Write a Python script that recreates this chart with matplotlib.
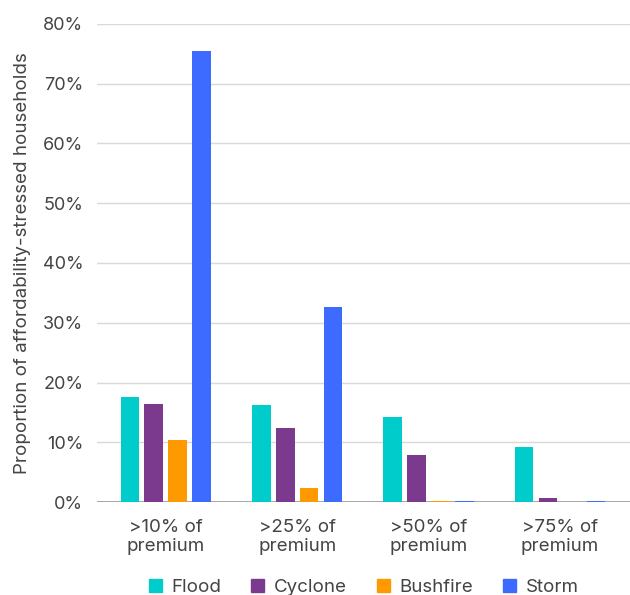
import matplotlib

matplotlib.use("Agg")
import matplotlib.pyplot as plt
import numpy as np
from matplotlib.patches import Patch

categories = [">10% of\npremium", ">25% of\npremium", ">50% of\npremium", ">75% of\npremium"]
series = ["Flood", "Cyclone", "Bushfire", "Storm"]
flood = [17.6, 16.2, 14.2, 9.2]
cyclone = [16.4, 12.4, 7.9, 0.7]
bushfire = [10.4, 2.3, 0.2, 0.0]
storm = [75.5, 32.6, 0.2, 0.2]
colors = ["#00CCCC", "#7B3A8E", "#FF9900", "#3D6BFF"]
yticks = [0, 10, 20, 30, 40, 50, 60, 70, 80]

plt.rcParams["font.family"] = ["Inter", "DejaVu Sans"]
text_color = "#444444"

fig = plt.figure(figsize=(6.3, 5.95), dpi=100)
ax = fig.add_axes([0.154, 0.156, 0.846, 0.804])

x = np.arange(len(categories))
width = 0.142
step = 0.182
for i, (name, vals) in enumerate(zip(series, [flood, cyclone, bushfire, storm])):
    ax.bar(x + (i - 1.5) * step, vals, width, color=colors[i], label=name,
           linewidth=0, zorder=3)

ax.set_xlim(-0.523, 3.533)
ax.set_ylim(0, 80)
ax.set_yticks(yticks)
ax.set_yticklabels([f"{v}%" for v in yticks])
ax.set_xticks(x)
ax.set_xticklabels(categories)
ax.tick_params(axis="both", length=0, colors=text_color)
ax.tick_params(axis="y", labelsize=13, pad=10)
ax.tick_params(axis="x", labelsize=13.5, pad=12)
for lbl in ax.get_xticklabels():
    lbl.set_linespacing(1.15)

ax.grid(axis="y", color="#d9d9d9", lw=1, zorder=0)
ax.axhline(0, color="#999999", lw=1.2, zorder=2)
for s in ax.spines.values():
    s.set_visible(False)

ax.set_ylabel("Proportion of affordability-stressed households", fontsize=13.5,
              color=text_color, labelpad=8)

handles = [Patch(color=c, label=n) for c, n in zip(colors, series)]
fig.legend(handles=handles, loc="lower center", bbox_to_anchor=(0.577, -0.03), ncol=4,
           frameon=False, fontsize=13.5, handlelength=0.7, handleheight=0.7,
           columnspacing=1.6, handletextpad=0.5, labelcolor=text_color)

fig.savefig("out.png", dpi=100)
